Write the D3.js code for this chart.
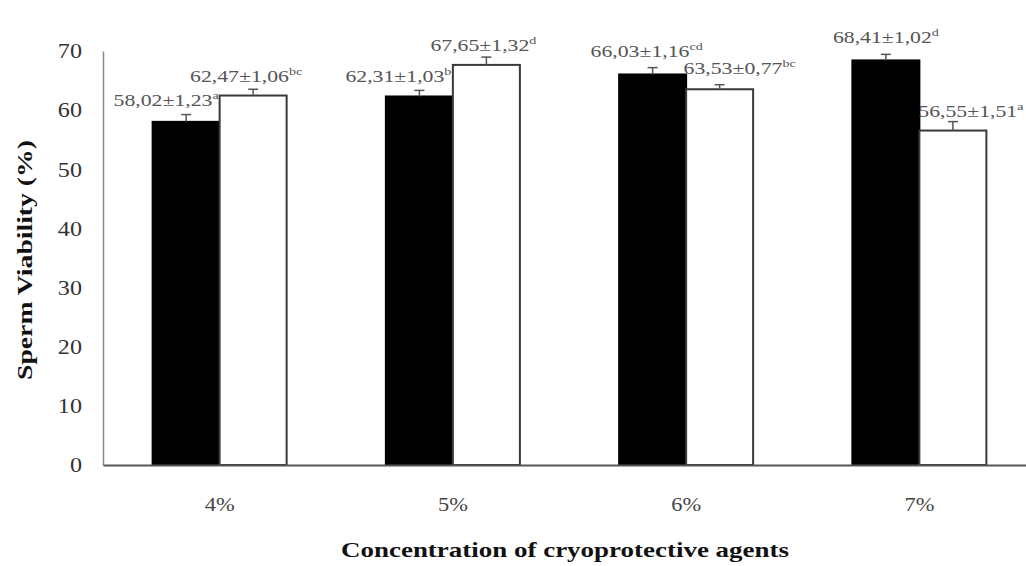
<!DOCTYPE html>
<html>
<head>
<meta charset="utf-8">
<script src="https://cdn.jsdelivr.net/npm/d3@7"></script>
<style>
  body { margin: 0; background: #fff; }
  svg { display: block; font-family: "Liberation Serif", "Times New Roman", serif; }
</style>
</head>
<body>
<svg id="chart" width="1026" height="566"></svg>
<script>
// data
const categories = ['4%', '5%', '6%', '7%'];
const blackMeans = [58.02, 62.31, 66.03, 68.41];
const blackErr = [1.23, 1.03, 1.16, 1.02];
const blackLetters = ['a', 'b', 'cd', 'd'];
const whiteMeans = [62.47, 67.65, 63.53, 56.55];
const whiteErr = [1.06, 1.32, 0.77, 1.51];
const whiteLetters = ['bc', 'd', 'bc', 'a'];
const yTicks = [0, 10, 20, 30, 40, 50, 60, 70];

// label nudges in px [dx, dy], layout only
const blackNudge = [[-20, -1], [-21, 0], [-6, -3], [0, -3]];
const whiteNudge = [[-7, 1], [-3, 2], [20, -3], [18, 3]];

const serif = '"Liberation Serif", "Times New Roman", serif';
const svg = d3.select('#chart');
const fmt = v => v.toFixed(2).replace('.', ',');

const x = d3.scaleBand().domain(categories).range([103, 1036]);
const y = d3.scaleLinear().domain([0, 70]).range([465, 51]);
const barW = 67;

const series = [
  { means: blackMeans, err: blackErr, letters: blackLetters, nudge: blackNudge, fill: '#000', off: -barW },
  { means: whiteMeans, err: whiteErr, letters: whiteLetters, nudge: whiteNudge, fill: '#fff', off: 0 }
];

// y axis
const yAxis = svg.append('g')
  .attr('transform', 'translate(103,0)')
  .call(d3.axisLeft(y).tickValues(yTicks).tickSize(0).tickPadding(0))
  .attr('font-family', serif);
yAxis.select('.domain').attr('stroke', '#888').attr('stroke-width', 1.5);
yAxis.selectAll('.tick text')
  .attr('x', 0)
  .attr('fill', '#333')
  .style('font-size', '21px')
  .attr('transform', 'translate(-21,0) scale(1.15,1)');

// bars
series.forEach(s => {
  const g = svg.append('g');
  categories.forEach((c, i) => {
    const cx = x(c) + x.bandwidth() / 2 + s.off;
    g.append('rect')
      .attr('x', cx)
      .attr('y', y(s.means[i]))
      .attr('width', barW)
      .attr('height', y(0) - y(s.means[i]))
      .attr('fill', s.fill)
      .attr('stroke', s.fill === '#000' ? '#000' : '#3a3a3a')
      .attr('stroke-width', 2);

    const mid = cx + barW / 2;
    const top = y(s.means[i] + s.err[i]);
    g.append('line')
      .attr('x1', mid).attr('x2', mid)
      .attr('y1', y(s.means[i])).attr('y2', top)
      .attr('stroke', '#555').attr('stroke-width', 1.5);
    g.append('line')
      .attr('x1', mid - 5).attr('x2', mid + 5)
      .attr('y1', top).attr('y2', top)
      .attr('stroke', '#555').attr('stroke-width', 1.5);

    const [dx, dy] = s.nudge[i];
    const t = g.append('text')
      .attr('text-anchor', 'middle')
      .attr('fill', '#555')
      .style('font-size', '17px')
      .attr('transform', `translate(${mid + dx},${top - 14 + dy + 6}) scale(1.28,1)`);
    t.append('tspan').text(`${fmt(s.means[i])}±${fmt(s.err[i])}`);
    t.append('tspan')
      .attr('dy', -7)
      .style('font-size', '11px')
      .text(s.letters[i]);
  });
});

// x axis
const xAxis = svg.append('g')
  .attr('transform', `translate(0,${y(0)})`)
  .call(d3.axisBottom(x).tickSize(0).tickPadding(33))
  .attr('font-family', serif);
xAxis.select('.domain').attr('stroke', '#555').attr('stroke-width', 2);
xAxis.selectAll('.tick text')
  .attr('fill', '#444')
  .style('font-size', '19px')
  .attr('transform', 'scale(1.18,1)');

// titles
svg.append('text')
  .attr('x', 565).attr('y', 557)
  .attr('text-anchor', 'middle')
  .attr('fill', '#111')
  .style('font-size', '21px')
  .style('font-weight', 'bold')
  .attr('textLength', 448)
  .attr('lengthAdjust', 'spacingAndGlyphs')
  .text('Concentration of cryoprotective agents');

svg.append('text')
  .attr('transform', 'translate(32,260) rotate(-90)')
  .attr('text-anchor', 'middle')
  .attr('fill', '#111')
  .style('font-size', '22px')
  .style('font-weight', 'bold')
  .attr('textLength', 240)
  .attr('lengthAdjust', 'spacingAndGlyphs')
  .text('Sperm Viability (%)');
</script>
</body>
</html>
